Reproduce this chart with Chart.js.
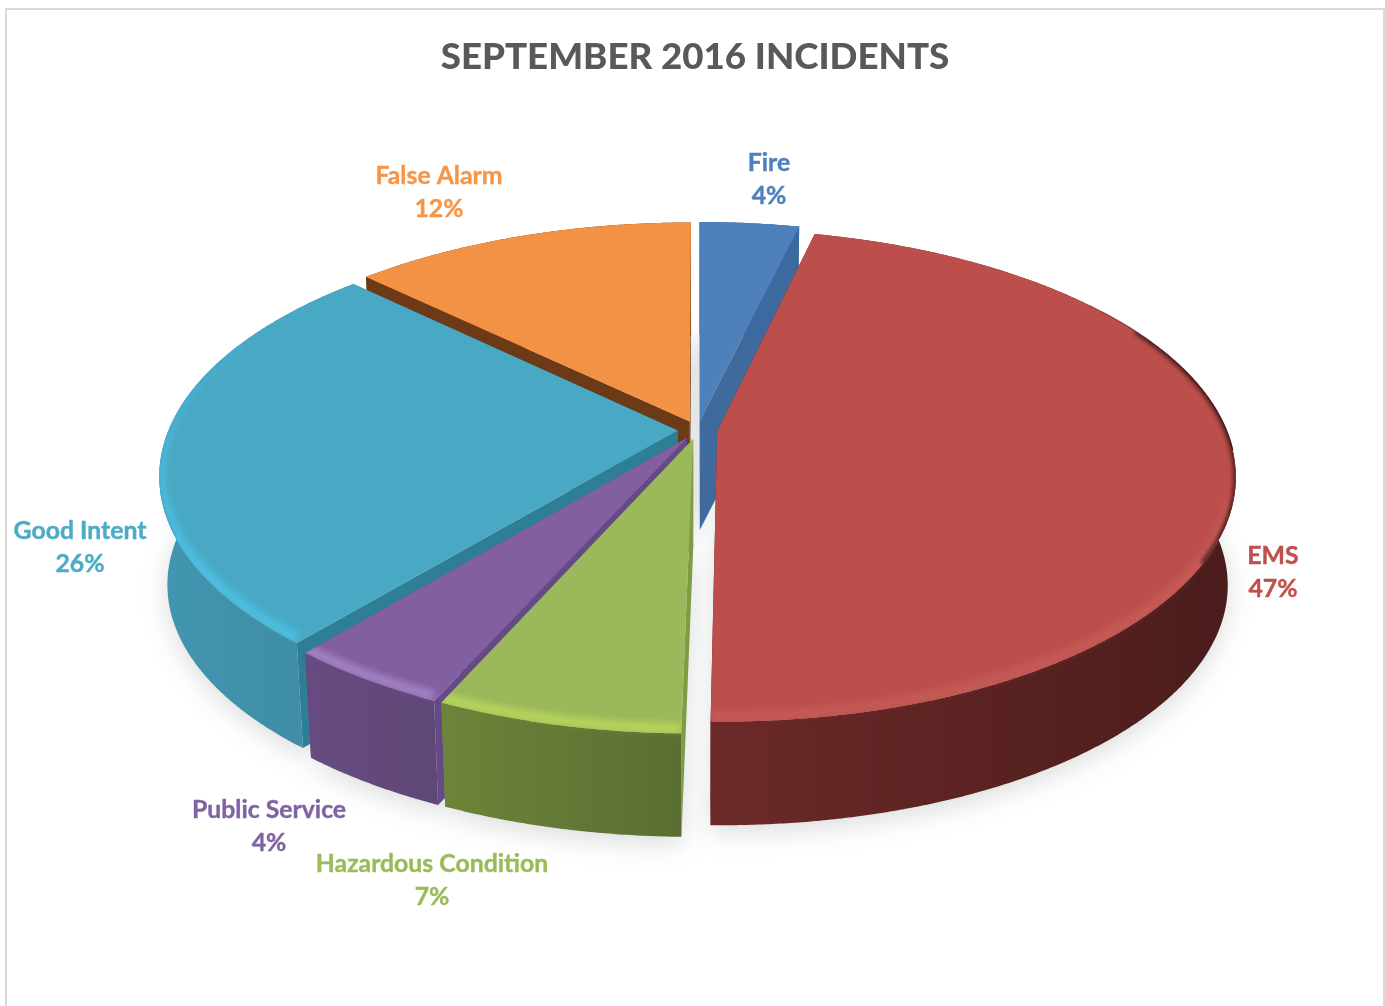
<!DOCTYPE html>
<html>
<head>
<meta charset="utf-8">
<script src="https://cdn.jsdelivr.net/npm/chart.js@4"></script>
<style>html,body{margin:0;padding:0;background:#fff}#w{width:1385px;height:1006px}</style>
</head>
<body>
<div id="w"><canvas id="c" width="1385" height="1006"></canvas></div>
<script>
const categories = ['Fire','EMS','Hazardous Condition','Public Service','Good Intent','False Alarm'];
const shares = [3.72,46.56,6.42,4.33,26.15,12.82];
const percentLabels = ['4%','47%','7%','4%','26%','12%'];
const chartTitle = 'SEPTEMBER 2016 INCIDENTS';

const labelColors = ['#4f81bd','#c0504d','#9bbb59','#8064a2','#4bacc6','#f79646'];
const topColors   = ['#4e80bb','#bc4f4c','#9bb85a','#815fa0','#49a9c4','#f39244'];
const wallLeft    = ['#3d6a9e','#6b2a28','#6d8439','#674b80','#4296b0','#6c3a16'];
const wallRight   = ['#3d6a9e','#4a1c1b','#5b6e32','#5f4876','#3e8aa4','#6c3a16'];
const cutColors   = ['#3e6a9e','#5a2220','#7f9c42','#654a88','#2e7f96','#6c3a16'];
const bevelColors = ['#5f92cc','#c45a56','#b6d25c','#a080c2','#4dbde0','#f7a259'];
const paintOrder  = [5,0,4,1,3,2];
const labelSpots  = [[769,163],[1273,556],[432,864],[269,810],[80,531],[439,176]];
const view = {cx:697.5, cy:430, rx:509, k:237.7, p:0.18, depth:85, sag:24, taper:0.985, explode:0.039};

function pt(el, th, r, lower){
  const mid = (el.startAngle + el.endAngle)/2 + Math.PI/2;
  const u = view.explode*Math.sin(mid) + r*Math.sin(th);
  const v = -view.explode*Math.cos(mid) - r*Math.cos(th);
  const w = 1 - view.p*v;
  const s = lower ? view.taper : 1;
  const drop = lower ? view.depth + view.sag*(1-v) : 0;
  return [view.cx + view.rx*u/w*s, view.cy + (view.k*v + drop)/w];
}
function rimPts(el, a, b, lower){
  const out=[], n=Math.max(2,Math.ceil(Math.abs(b-a)/0.006));
  for(let i=0;i<=n;i++){ out.push(pt(el, a+(b-a)*i/n, 1, lower)); }
  return out;
}
function trace(ctx, pts){ pts.forEach((p,i)=> i?ctx.lineTo(p[0],p[1]):ctx.moveTo(p[0],p[1])); ctx.closePath(); }
function line(ctx, pts, dy){ pts.forEach((p,i)=> i?ctx.lineTo(p[0],p[1]+dy):ctx.moveTo(p[0],p[1]+dy)); }
function quad(ctx, el, th, color){
  const list=[pt(el,th,0,false),pt(el,th,1,false),pt(el,th,1,true),pt(el,th,0,true)];
  ctx.beginPath(); trace(ctx,list); ctx.fillStyle=color; ctx.fill();
}
function paintSlice(ctx, el, i){
  const a=el.startAngle+Math.PI/2, b=el.endAngle+Math.PI/2;
  quad(ctx,el,a,cutColors[i]); quad(ctx,el,b,cutColors[i]);
  const up=rimPts(el,a,b,false), lo=rimPts(el,a,b,true);
  const xs=up.map(p=>p[0]);
  const g=ctx.createLinearGradient(Math.min(...xs),0,Math.max(...xs),0);
  g.addColorStop(0,wallLeft[i]); g.addColorStop(1,wallRight[i]);
  ctx.beginPath(); trace(ctx,up.concat(lo.slice().reverse())); ctx.fillStyle=g; ctx.fill();

  const face=[pt(el,a,0,false)].concat(up);
  ctx.beginPath(); trace(ctx,face); ctx.fillStyle=topColors[i]; ctx.fill();

  const lim0=Math.max(a,1.85), lim1=Math.min(b,5.1);
  if(lim1>lim0){
    const near=rimPts(el,lim0,lim1,false);
    ctx.save();
    ctx.beginPath(); trace(ctx,face); ctx.clip();
    ctx.filter='blur(3px)';
    ctx.beginPath(); line(ctx,near,-5);
    ctx.strokeStyle=bevelColors[i]; ctx.lineWidth=11; ctx.stroke();
    ctx.restore();
    ctx.save();
    ctx.beginPath(); trace(ctx,[pt(el,a,0,false)].concat(up,lo.slice().reverse())); ctx.clip();
    ctx.filter='blur(1.5px)';
    ctx.beginPath(); line(ctx,near,1);
    ctx.strokeStyle=wallLeft[i]; ctx.globalAlpha=0.6; ctx.lineWidth=2.5; ctx.stroke();
    ctx.restore();
  }
  if(i===1){
    ctx.save();
    ctx.beginPath(); trace(ctx,face); ctx.clip();
    ctx.filter='blur(2px)';
    ctx.beginPath(); line(ctx,rimPts(el,1.1,2.1,false),0);
    ctx.strokeStyle=wallRight[i]; ctx.lineWidth=5; ctx.stroke();
    ctx.restore();
    const fade=ctx.createLinearGradient(1070,0,1190,0);
    fade.addColorStop(0,'rgba(74,28,27,0)'); fade.addColorStop(1,'rgba(74,28,27,1)');
    ctx.save();
    ctx.filter='blur(0.6px)';
    ctx.beginPath(); line(ctx,rimPts(el,0.95,1.65,false),0);
    ctx.strokeStyle=fade; ctx.lineWidth=1.5; ctx.stroke();
    ctx.restore();
  }
}
const tiltedPie = {
  id:'tiltedPie',
  beforeDraw(chart){
    const ctx=chart.ctx;
    ctx.save();
    ctx.fillStyle='#fff'; ctx.fillRect(0,0,chart.width,chart.height);
    ctx.strokeStyle='#d9d9d9'; ctx.lineWidth=2;
    ctx.beginPath(); ctx.moveTo(6,1006); ctx.lineTo(6,9); ctx.lineTo(1384,9); ctx.lineTo(1384,1006); ctx.stroke();
    ctx.restore();
  },
  beforeDatasetDraw(chart, args){
    const ctx=chart.ctx, arcs=chart.getDatasetMeta(args.index).data;
    ctx.save();
    ctx.save();
    ctx.filter='blur(13px)';
    ctx.beginPath();
    arcs.forEach(el=>{
      const a=el.startAngle+Math.PI/2,b=el.endAngle+Math.PI/2;
      const list=[pt(el,a,0,true)].concat(rimPts(el,a,b,true)).map(p=>[p[0],p[1]+7]);
      trace(ctx,list);
    });
    ctx.fillStyle='rgba(40,45,50,0.17)'; ctx.fill();
    ctx.restore();
    paintOrder.forEach(i=>paintSlice(ctx,arcs[i],i));
    ctx.restore();
    return false;
  },
  afterDatasetsDraw(chart){
    const ctx=chart.ctx;
    ctx.save();
    ctx.textAlign='center'; ctx.textBaseline='middle';
    ctx.font='bold 24.8px Lato';
    ctx.lineWidth=0.4; ctx.lineJoin='round';
    categories.forEach((name,i)=>{
      const x=labelSpots[i][0], y=labelSpots[i][1];
      ctx.fillStyle=ctx.strokeStyle=labelColors[i];
      ctx.fillText(name,x,y); ctx.strokeText(name,x,y);
      ctx.fillText(percentLabels[i],x,y+33); ctx.strokeText(percentLabels[i],x,y+33);
    });
    ctx.restore();
  }
};
new Chart(document.getElementById('c'),{
  type:'pie',
  data:{labels:categories,datasets:[{data:shares,backgroundColor:topColors,borderWidth:0}]},
  options:{
    responsive:false,animation:false,
    layout:{padding:{left:5}},
    plugins:{
      legend:{display:false},tooltip:{enabled:false},
      title:{display:true,text:chartTitle,color:'#595959',font:{family:'Lato',size:36.7,weight:'900'},padding:{top:35,bottom:20}}
    }
  },
  plugins:[tiltedPie]
});
</script>
</body>
</html>
